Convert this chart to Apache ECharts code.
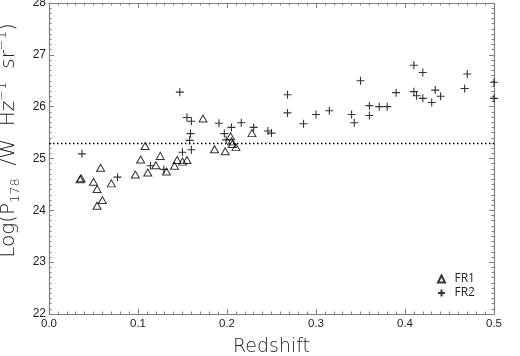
<!DOCTYPE html>
<html>
<head>
<meta charset="utf-8">
<script src="https://cdn.jsdelivr.net/npm/echarts@6/dist/echarts.min.js"></script>
<style>
  html, body { margin: 0; padding: 0; background: #fff; }
  #chart { width: 520px; height: 356px; }
</style>
</head>
<body>
<div id="chart"></div>
<script>
// FR1 sources (triangles)
const fr1Z = [0.036, 0.035, 0.050, 0.054, 0.060, 0.054, 0.070, 0.058, 0.097, 0.111,
  0.103, 0.108, 0.125, 0.120, 0.132, 0.141, 0.144, 0.150, 0.155, 0.173,
  0.186, 0.198, 0.204, 0.205, 0.206, 0.210, 0.228];
const fr1LogP = [24.62, 24.60, 24.55, 24.41, 24.20, 24.09, 24.52, 24.82, 24.69, 24.73,
  24.98, 25.24, 25.05, 24.87, 24.75, 24.86, 24.97, 24.94, 24.97, 25.77,
  25.18, 25.14, 25.43, 25.33, 25.28, 25.22, 25.49];

// FR2 sources (plus)
const fr2Z = [0.037, 0.077, 0.114, 0.129, 0.147, 0.150, 0.155, 0.160, 0.159, 0.158,
  0.160, 0.191, 0.205, 0.216, 0.230, 0.197, 0.199, 0.246, 0.250, 0.268,
  0.268, 0.286, 0.300, 0.315, 0.340, 0.343, 0.350, 0.360, 0.360, 0.371,
  0.380, 0.390, 0.410, 0.420, 0.410, 0.413, 0.420, 0.430, 0.434, 0.440,
  0.467, 0.470, 0.500, 0.500];
const fr2LogP = [25.09, 24.64, 24.86, 24.79, 26.28, 25.12, 25.79, 25.72, 25.48, 25.35,
  25.17, 25.68, 25.60, 25.69, 25.60, 25.48, 25.36, 25.53, 25.49, 26.23,
  25.88, 25.67, 25.85, 25.92, 25.85, 25.69, 26.50, 26.02, 25.83, 26.00,
  26.00, 26.27, 26.80, 26.66, 26.29, 26.21, 26.16, 26.08, 26.32, 26.20,
  26.35, 26.63, 26.47, 26.16];

const cutLevel = 25.3;
const xTicks = [0, 0.5, 0.1];
const yTicks = [22, 28, 1];

const triPath = 'path://M0,10 L5,0 L10,10 Z';
const plusPath = 'path://M5,0 L5,10 M0,5 L10,5';

const frameColor = '#808080';
const titleFont = 'DejaVu Sans';

function axisBase(min, max, step) {
  return {
    min: min, max: max, interval: step,
    axisLine: { show: true, onZero: false, lineStyle: { color: frameColor, width: 1.2 } },
    axisTick: { show: true, inside: true, length: 5, lineStyle: { color: frameColor, width: 1 } },
    minorTick: { show: true, splitNumber: 10, length: 2.5, lineStyle: { color: frameColor, width: 1 } },
    splitLine: { show: false },
    minorSplitLine: { show: false }
  };
}

const chart = echarts.init(document.getElementById('chart'));

const option = {
  animation: false,
  grid: { left: 49, right: 26, top: 3, bottom: 42, outerBoundsMode: 'none', containLabel: false },
  legend: {
    orient: 'vertical',
    left: 432,
    top: 267,
    itemWidth: 8,
    itemHeight: 7,
    itemGap: 0,
    textStyle: { fontFamily: 'Open Sans', fontSize: 12, color: '#222', lineHeight: 14, padding: [0, 0, 0, 4] },
    data: ['FR1', 'FR2']
  },
  xAxis: [
    Object.assign(axisBase(xTicks[0], xTicks[1], xTicks[2]), {
      type: 'value', position: 'bottom',
      axisLabel: {
        margin: 4, color: '#222', fontSize: 11.5, fontFamily: 'Liberation Sans',
        formatter: v => v.toFixed(1)
      },
      name: 'Redshift', nameLocation: 'middle', nameGap: 24,
      nameTextStyle: { fontFamily: titleFont, fontWeight: 200, fontSize: 19, color: '#222' }
    }),
    Object.assign(axisBase(xTicks[0], xTicks[1], xTicks[2]), {
      type: 'value', position: 'top', axisLabel: { show: false }
    })
  ],
  yAxis: [
    Object.assign(axisBase(yTicks[0], yTicks[1], yTicks[2]), {
      type: 'value', position: 'left',
      axisLabel: { margin: 3, color: '#222', fontSize: 12, fontFamily: 'Liberation Sans' },
      name: '{a|Log(P}{s|178}{a|  /W  Hz}{p|−1}{a|  sr}{p|−1}{a|)}',
      nameLocation: 'middle', nameGap: 21,
      nameTextStyle: {
        padding: [0, 0, 0, 36],
        rich: {
          a: { fontFamily: titleFont, fontWeight: 200, fontSize: 20, color: '#222', lineHeight: 26, verticalAlign: 'middle' },
          s: { fontFamily: titleFont, fontWeight: 200, fontSize: 13, color: '#222', lineHeight: 13, verticalAlign: 'bottom' },
          p: { fontFamily: titleFont, fontWeight: 200, fontSize: 13, color: '#222', lineHeight: 13, verticalAlign: 'top' }
        }
      }
    }),
    Object.assign(axisBase(yTicks[0], yTicks[1], yTicks[2]), {
      type: 'value', position: 'right', axisLabel: { show: false }
    })
  ],
  series: [
    {
      name: 'FR1',
      type: 'scatter',
      symbol: triPath,
      symbolSize: [8, 7],
      itemStyle: { color: 'rgba(0,0,0,0)', borderColor: '#000', borderWidth: 1 },
      data: fr1Z.map((z, i) => [z, fr1LogP[i]]),
      markLine: {
        silent: true,
        symbol: 'none',
        label: { show: false },
        lineStyle: { color: '#000', type: [1.5, 2.5], width: 1.3 },
        data: [{ yAxis: cutLevel }]
      }
    },
    {
      name: 'FR2',
      type: 'scatter',
      symbol: plusPath,
      symbolSize: 8,
      itemStyle: { color: 'rgba(0,0,0,0)', borderColor: '#000', borderWidth: 1.1 },
      data: fr2Z.map((z, i) => [z, fr2LogP[i]])
    }
  ]
};

chart.setOption(option);
</script>
</body>
</html>
